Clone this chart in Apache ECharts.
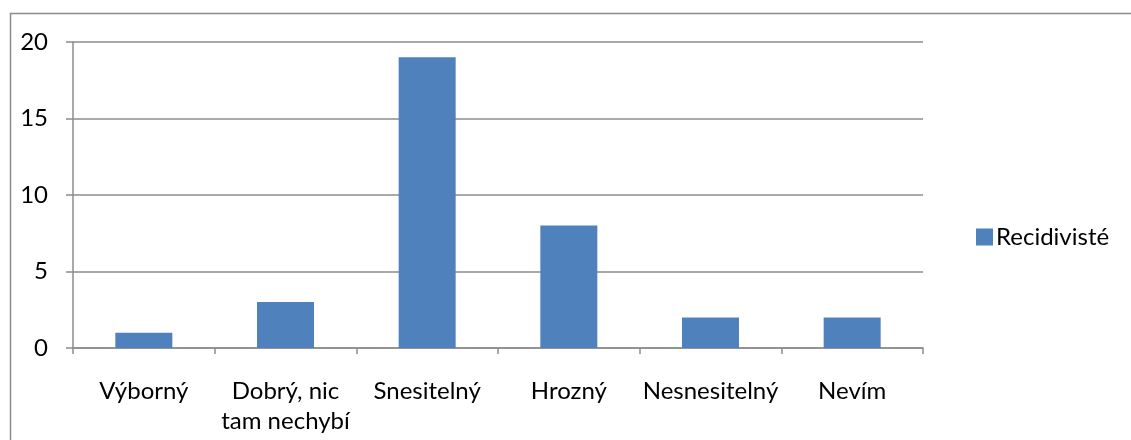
<!DOCTYPE html>
<html>
<head>
<meta charset="utf-8">
<script src="https://cdn.jsdelivr.net/npm/echarts@6/dist/echarts.min.js"></script>
<style>
html,body{margin:0;padding:0;background:#fff;}
#c{width:1131px;height:440px;}
</style>
</head>
<body>
<div id="c"></div>
<script>
const categories = ['Výborný', 'Dobrý, nic\ntam nechybí', 'Snesitelný', 'Hrozný', 'Nesnesitelný', 'Nevím'];
const seriesName = 'Recidivisté';
const values = [1, 3, 19, 8, 2, 2];
const yTicks = { min: 0, max: 20, interval: 5 };

const font = 'Lato, "Open Sans", "Liberation Sans", sans-serif';
const chart = echarts.init(document.getElementById('c'), null, { renderer: 'canvas' });
chart.setOption({
  animation: false,
  backgroundColor: '#fff',
  graphic: [{
    type: 'rect', left: 8, top: 11, z: -1,
    shape: { width: 1200, height: 500 },
    style: { fill: 'none', stroke: '#8c8c8c', lineWidth: 1.5 }
  }],
  grid: { left: 73, right: 208, top: 42, bottom: 92 },
  legend: {
    data: [seriesName],
    orient: 'vertical',
    left: 971, top: 220,
    itemWidth: 17, itemHeight: 17, itemGap: 8,
    textStyle: { fontFamily: font, fontSize: 24, color: '#000', padding: [0, 0, 0, -2] },
    icon: 'rect'
  },
  xAxis: {
    type: 'category',
    data: categories,
    axisLine: { lineStyle: { color: '#8c8c8c', width: 1.5 } },
    axisTick: { show: true, length: 6, lineStyle: { color: '#8c8c8c', width: 1.5 } },
    axisLabel: { interval: 0, fontFamily: font, fontSize: 24, color: '#000', margin: 28, lineHeight: 30 }
  },
  yAxis: {
    type: 'value',
    min: yTicks.min, max: yTicks.max, interval: yTicks.interval,
    axisLine: { show: true, lineStyle: { color: '#8c8c8c', width: 1.5 } },
    axisTick: { show: true, length: 7, lineStyle: { color: '#8c8c8c', width: 1.5 } },
    splitLine: { lineStyle: { color: '#8c8c8c', width: 1.5 } },
    axisLabel: { fontFamily: font, fontSize: 24, color: '#000', margin: 25 }
  },
  series: [{
    name: seriesName,
    type: 'bar',
    data: values,
    barWidth: 57,
    itemStyle: { color: '#4F81BD' }
  }]
});
</script>
</body>
</html>
